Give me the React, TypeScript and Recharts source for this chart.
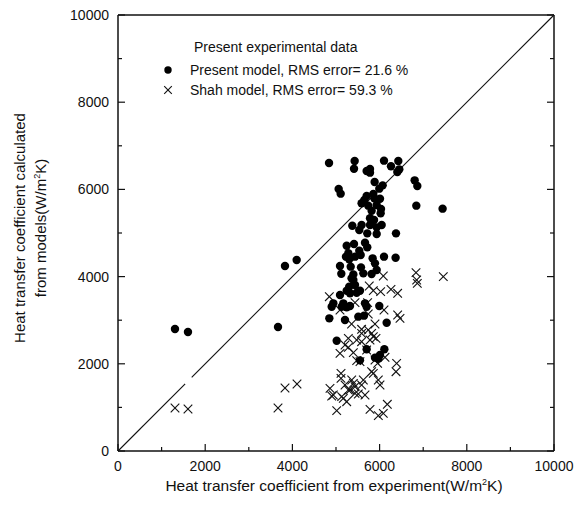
import React from 'react'
import {
  ScatterChart,
  Scatter,
  XAxis,
  YAxis,
  ReferenceLine,
} from 'recharts'

// measured values (W/m2K)
const presentX = [
  1307, 1605, 3670, 3830, 4098, 4840, 5428, 5413, 5703, 5780, 5780, 6101, 6261, 6429, 6452, 6407,
  6804, 6865, 5886, 5993, 6070, 5061, 5107, 6842, 7445, 5703, 5650, 5587, 5856, 5879, 6009, 5740,
  5933, 6032, 5817, 6024, 5872, 5780, 5374, 5587, 5780, 5933, 6047, 5534, 5717, 5933, 6376, 5245,
  5413, 5665, 5717, 5534, 5283, 5229, 5436, 5566, 5303, 5840, 6101, 6367, 5092, 5337, 5573, 5894,
  5933, 5122, 5398, 5627, 5817, 5398, 5303, 5357, 5436, 5092, 5245, 5321, 5474, 5550, 4939, 4901,
  5168, 5130, 5245, 5321, 5703, 5665, 5993, 4847, 5206, 5512, 5642, 6162, 5016, 5703, 6109, 5971,
  5894, 6009, 5550,
]
const presentY = [
  2798, 2729, 2844, 4243, 4381, 6606, 6651, 6475, 6422, 6468, 6384, 6659, 6530, 6651, 6460, 6399,
  6208, 6078, 6170, 6017, 6093, 6009, 5902, 5627, 5558, 5849, 5757, 5681, 5895, 5796, 5787, 5627,
  5642, 5550, 5512, 5451, 5298, 5337, 5168, 5183, 5183, 5130, 5183, 5069, 4992, 4977, 4992, 4709,
  4748, 4778, 4671, 4595, 4534, 4457, 4457, 4495, 4396, 4419, 4457, 4434, 4243, 4228, 4212, 4304,
  4151, 4067, 4051, 4074, 4059, 3922, 3769, 3960, 3807, 3578, 3677, 3617, 3631, 3677, 3387, 3310,
  3387, 3310, 3295, 3326, 3310, 3387, 3326, 3043, 3005, 3081, 3104, 2943, 2530, 2332, 2332, 2118,
  2141, 2202, 2079,
]

const shahX = [
  1307, 1605, 3670, 3830, 4106, 6085, 6835, 6850, 6865, 7461, 5763, 5856, 6024, 6261, 6414, 4847,
  5436, 5725, 5092, 5740, 6101, 6414, 6468, 5357, 5894, 5587, 5740, 5817, 5587, 5856, 5283, 5474,
  5587, 5780, 5917, 5206, 5283, 5703, 5092, 5398, 5550, 5474, 5894, 5955, 6124, 5817, 6391, 6376,
  5115, 5115, 5206, 5360, 5436, 4862, 4901, 5130, 5283, 5587, 5627, 5665, 5512, 5245, 5168, 5971,
  6009, 5016, 5780, 5971, 6085, 6177, 4939, 5856, 5398, 5321, 5436,
]
const shahY = [
  986, 963, 986, 1445, 1537, 4014, 4090, 3922, 3846, 4000, 3784, 3677, 3654, 3708, 3617, 3539,
  3402, 3402, 3234, 3142, 3234, 3119, 3043, 2913, 2913, 2791, 2775, 2699, 2699, 2622, 2584, 2546,
  2507, 2546, 2584, 2431, 2378, 2317, 2240, 2255, 2049, 2072, 2087, 2011, 2149, 1819, 2011, 1819,
  1781, 1667, 1514, 1629, 1475, 1437, 1262, 1246, 1399, 1514, 1629, 1284, 1307, 1131, 1208, 1629,
  1514, 925, 956, 810, 864, 1071, 1284, 1781, 1552, 1399, 1323,
]

const axisTicks = [0, 1000, 2000, 3000, 4000, 5000, 6000, 7000, 8000, 9000, 10000]

const presentData = presentX.map((x, i) => ({ x, y: presentY[i] }))
const shahData = shahX.map((x, i) => ({ x, y: shahY[i] }))

const FONT = '"Liberation Sans", Arial, sans-serif'

function Cross({ cx, cy, s = 4.3 }: { cx: number; cy: number; s?: number }) {
  return (
    <g stroke="#111" strokeWidth={1.1}>
      <line x1={cx - s} y1={cy - s} x2={cx + s} y2={cy + s} />
      <line x1={cx - s} y1={cy + s} x2={cx + s} y2={cy - s} />
    </g>
  )
}

// tick drawn inward, label only on the even thousands
function makeTick(side: 'bottom' | 'top' | 'left' | 'right') {
  return (props: any) => {
    const { x, y, payload } = props
    const v = payload.value
    const major = v % 2000 === 0
    const len = major ? 7 : 4
    if (side === 'bottom') {
      return (
        <g>
          <line x1={x} y1={y} x2={x} y2={y - len} stroke="#111" strokeWidth={1.2} />
          {major && (
            <text x={x} y={y + 20} textAnchor="middle" fontSize={14} fontFamily={FONT} fill="#111">
              {v}
            </text>
          )}
        </g>
      )
    }
    if (side === 'top') {
      return <line x1={x} y1={y} x2={x} y2={y + len} stroke="#111" strokeWidth={1.2} />
    }
    if (side === 'right') {
      return <line x1={x} y1={y} x2={x - len} y2={y} stroke="#111" strokeWidth={1.2} />
    }
    return (
      <g>
        <line x1={x} y1={y} x2={x + len} y2={y} stroke="#111" strokeWidth={1.2} />
        {major && (
          <text x={x - 9} y={y + 5} textAnchor="end" fontSize={14} fontFamily={FONT} fill="#111">
            {v}
          </text>
        )}
      </g>
    )
  }
}

export default function App() {
  return (
    <div style={{ position: 'absolute', left: 0, top: 0, width: 574, height: 506, background: '#fff' }}>
      <ScatterChart width={574} height={506} margin={{ top: 0, right: 0, bottom: 0, left: 0 }}>
        <XAxis
          type="number"
          dataKey="x"
          domain={[0, 10000]}
          ticks={axisTicks}
          interval={0}
          height={55}
          tickSize={0}
          tickMargin={0}
          tick={makeTick('bottom')}
          axisLine={{ stroke: '#111', strokeWidth: 1.5 }}
          allowDataOverflow
        />
        <XAxis
          xAxisId="top"
          orientation="top"
          type="number"
          domain={[0, 10000]}
          ticks={axisTicks}
          interval={0}
          height={15}
          tickSize={0}
          tickMargin={0}
          tick={makeTick('top')}
          axisLine={{ stroke: '#111', strokeWidth: 1.5 }}
          allowDataOverflow
        />
        <YAxis
          type="number"
          dataKey="y"
          domain={[0, 10000]}
          ticks={axisTicks}
          interval={0}
          width={118}
          tickSize={0}
          tickMargin={0}
          tick={makeTick('left')}
          axisLine={{ stroke: '#111', strokeWidth: 1.5 }}
          allowDataOverflow
        />
        <YAxis
          yAxisId="right"
          orientation="right"
          type="number"
          domain={[0, 10000]}
          ticks={axisTicks}
          interval={0}
          width={20}
          tickSize={0}
          tickMargin={0}
          tick={makeTick('right')}
          axisLine={{ stroke: '#111', strokeWidth: 1.5 }}
          allowDataOverflow
        />
        <ReferenceLine
          segment={[{ x: 0, y: 0 }, { x: 1540, y: 1540 }]}
          stroke="#111"
          strokeWidth={1.1}
        />
        <ReferenceLine
          segment={[{ x: 1690, y: 1690 }, { x: 10000, y: 10000 }]}
          stroke="#111"
          strokeWidth={1.1}
        />
        <Scatter
          data={shahData}
          isAnimationActive={false}
          shape={(p: any) => <Cross cx={p.cx} cy={p.cy} />}
        />
        <Scatter
          data={presentData}
          isAnimationActive={false}
          shape={(p: any) => <circle cx={p.cx} cy={p.cy} r={4.2} fill="#000" />}
        />
      </ScatterChart>

      <svg
        width={574}
        height={506}
        style={{ position: 'absolute', left: 0, top: 0, pointerEvents: 'none' }}
        fontFamily={FONT}
        fill="#111"
      >
        {/* legend */}
        <text x={194} y={52} fontSize={14}>Present experimental data</text>
        <circle cx={168} cy={70} r={3.7} fill="#000" />
        <text x={190} y={75} fontSize={14}>Present model, RMS error= 21.6 %</text>
        <Cross cx={168} cy={90} s={3.8} />
        <text x={190} y={95} fontSize={14}>Shah model, RMS error= 59.3 %</text>

        {/* axis titles */}
        <text x={334} y={491} textAnchor="middle" fontSize={15.5}>
          Heat transfer coefficient from experiment(W/m
          <tspan dy={-6} fontSize={9}>2</tspan>
          <tspan dy={6}>K)</tspan>
        </text>
        <g transform="translate(25,228) rotate(-90)">
          <text x={0} y={0} textAnchor="middle" fontSize={15}>
            Heat transfer coefficient calculated
          </text>
          <text x={0} y={21} textAnchor="middle" fontSize={15}>
            from models(W/m
            <tspan dy={-6} fontSize={9}>2</tspan>
            <tspan dy={6}>K)</tspan>
          </text>
        </g>
      </svg>
    </div>
  )
}
